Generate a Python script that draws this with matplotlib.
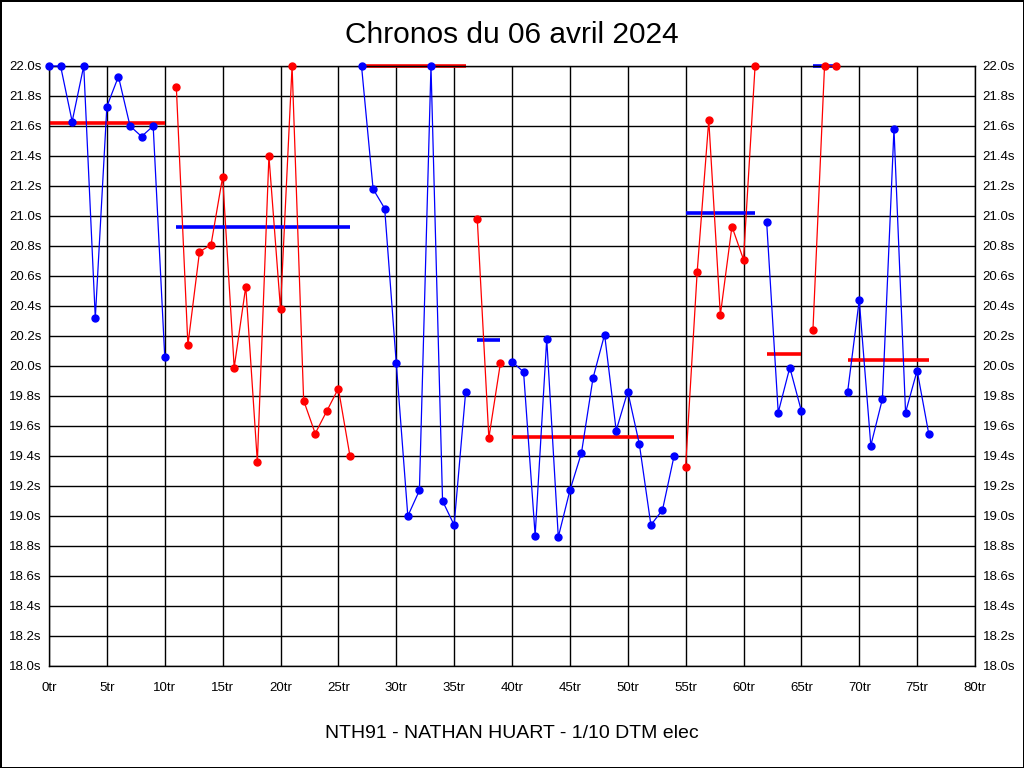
import matplotlib.pyplot as plt
import numpy as np

plt.rcParams["font.family"] = ["Liberation Sans", "DejaVu Sans"]

# lap times (s), lap 0..76
lap_times = [
    22.00, 22.00, 21.63, 22.00, 20.32, 21.73, 21.93, 21.60, 21.53, 21.60, 20.06,
    21.86, 20.14, 20.76, 20.81, 21.26, 19.99, 20.53, 19.36, 21.40, 20.38,
    22.00, 19.77, 19.55, 19.70, 19.85, 19.40,
    22.00, 21.18, 21.05, 20.02, 19.00, 19.17, 22.00, 19.10, 18.94, 19.83,
    20.98, 19.52, 20.02,
    20.03, 19.96, 18.87, 20.18, 18.86, 19.17, 19.42, 19.92, 20.21, 19.57,
    19.83, 19.48, 18.94, 19.04, 19.40,
    19.33, 20.63, 21.64, 20.34, 20.93, 20.71, 22.00,
    20.96, 19.69, 19.99, 19.70,
    20.24, 22.00, 22.00,
    19.83, 20.44, 19.47, 19.78, 21.58, 19.69, 19.97, 19.55,
]

# stints: first lap, last lap, average line
stint_start = [0, 11, 27, 37, 40, 55, 62, 66, 69]
stint_end = [10, 26, 36, 39, 54, 61, 65, 68, 76]
stint_avg = [21.62, 20.93, 22.00, 20.17, 19.53, 21.02, 20.08, 22.00, 20.04]

x_ticks = list(range(0, 81, 5))
x_labels = [f"{v}tr" for v in x_ticks]
y_ticks = np.round(np.arange(18.0, 22.01, 0.2), 1)
y_labels = [f"{v:.1f}s" for v in y_ticks]

title = "Chronos du 06 avril 2024"
subtitle = "NTH91 - NATHAN HUART - 1/10 DTM elec"

fig = plt.figure(figsize=(10.24, 7.68), dpi=100, facecolor="white")
fig.patch.set_edgecolor("black")
fig.patch.set_linewidth(2)
ax = fig.add_axes([49 / 1024, 102 / 768, 926 / 1024, 600 / 768])

laps = np.arange(len(lap_times))
times = np.array(lap_times)
colors = ["blue", "red"]

for i, (s, e) in enumerate(zip(stint_start, stint_end)):
    c = colors[i % 2]
    other = colors[(i + 1) % 2]
    ax.plot(laps[s:e + 1], times[s:e + 1], color=c, lw=0.9, marker="o",
            markersize=5, zorder=3, clip_on=False)
    ax.plot([s, e], [stint_avg[i], stint_avg[i]], color=other, lw=2.6,
            zorder=2, solid_capstyle="butt", clip_on=False)

ax.set_xlim(0, 80)
ax.set_ylim(18.0, 22.0)
ax.set_xticks(x_ticks)
ax.set_xticklabels(x_labels)
ax.set_yticks(y_ticks)
ax.set_yticklabels(y_labels)
ax.grid(True, color="black", lw=1)
ax.set_axisbelow(True)
for sp in ax.spines.values():
    sp.set_color("black")
    sp.set_linewidth(1)
ax.tick_params(axis="y", left=False, right=False, labelleft=True,
               labelright=True, labelsize=9.5, pad=2)
ax.tick_params(axis="x", bottom=False, labelsize=9.5, pad=8)

fig.text(0.5, 1 - 35 / 768, title, ha="center", va="center", fontsize=21.5)
fig.text(0.5, 1 - 733 / 768, subtitle, ha="center", va="center", fontsize=14)

fig.savefig("out.png", dpi=100)
